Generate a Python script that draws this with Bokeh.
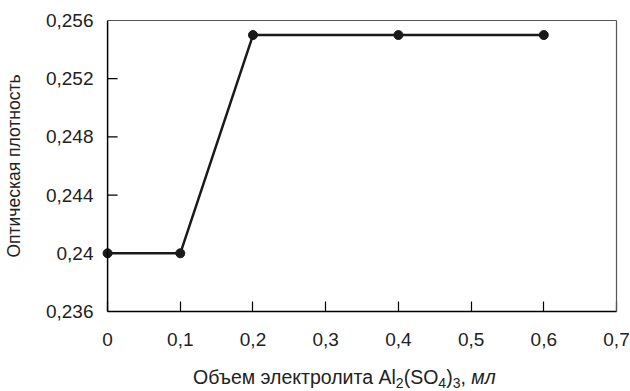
from bokeh.plotting import figure
from bokeh.models import FixedTicker, Range1d, Div, LinearAxis, Span
from bokeh.layouts import column
from bokeh.embed import file_html
from bokeh.resources import INLINE

# Electrolyte volume (ml) and measured optical density
volume_ml = [0.0, 0.1, 0.2, 0.4, 0.6]
optical_density = [0.240, 0.240, 0.255, 0.255, 0.255]

x_ticks = [0.0, 0.1, 0.2, 0.3, 0.4, 0.5, 0.6, 0.7]
x_tick_labels = ["0", "0,1", "0,2", "0,3", "0,4", "0,5", "0,6", "0,7"]
y_ticks = [0.236, 0.240, 0.244, 0.248, 0.252, 0.256]
y_tick_labels = ["0,236", "0,24", "0,244", "0,248", "0,252", "0,256"]

FONT = "Liberation Sans"
TEXT = "#222222"
SIZE = "19px"

X_MIN, X_MAX = 0.0, 0.7
Y_MIN, Y_MAX = 0.236, 0.256
# a little room left of x = 0 so the first marker is drawn whole
X_PAD = 0.0125

p = figure(width=630, height=368, output_backend="svg", toolbar_location=None,
           x_range=Range1d(X_MIN - X_PAD, X_MAX), y_range=Range1d(Y_MIN, Y_MAX),
           min_border_left=98, min_border_right=14,
           min_border_top=20, min_border_bottom=57)

p.background_fill_color = "white"
p.border_fill_color = "white"
p.grid.visible = False
p.outline_line_color = None

# x axis
p.xaxis.ticker = FixedTicker(ticks=x_ticks)
p.xaxis.bounds = (X_MIN, X_MAX)
p.xaxis.major_label_overrides = {t: s for t, s in zip(x_ticks, x_tick_labels)}
p.xaxis.minor_tick_line_color = None
p.xaxis.major_tick_in = 10
p.xaxis.major_tick_out = 0
p.xaxis.major_label_standoff = 21
p.xaxis.axis_line_color = "black"
p.xaxis.axis_line_width = 1.5
p.xaxis.major_tick_line_width = 1.2
p.xaxis.major_label_text_font = FONT
p.xaxis.major_label_text_font_size = SIZE
p.xaxis.major_label_text_color = TEXT

# y axis: labels and title from the axis, its line and ticks drawn at x = 0
yax = p.yaxis[0]
yax.ticker = FixedTicker(ticks=y_ticks)
yax.major_label_overrides = {t: s for t, s in zip(y_ticks, y_tick_labels)}
yax.axis_line_color = None
yax.major_tick_line_color = None
yax.minor_tick_line_color = None
yax.major_tick_in = 0
yax.major_tick_out = 0
yax.major_label_standoff = 5
yax.major_label_text_font = FONT
yax.major_label_text_font_size = SIZE
yax.major_label_text_color = TEXT
yax.axis_label = "Оптическая плотность"
yax.axis_label_text_font = FONT
yax.axis_label_text_font_size = "17.5px"
yax.axis_label_text_font_style = "normal"
yax.axis_label_text_color = TEXT
yax.axis_label_standoff = 19

p.add_layout(Span(location=X_MIN, dimension="height", line_color="black", line_width=1.5))
p.ray(x=[X_MIN] * len(y_ticks), y=y_ticks, length=10, length_units="screen",
      angle=0, line_color="black", line_width=1.2)


def frame_edge(**kw):
    # plain line closing the box on the top and right sides
    return LinearAxis(ticker=FixedTicker(ticks=[]), axis_line_color="#555555",
                      axis_line_width=1.2, major_tick_line_color=None,
                      minor_tick_line_color=None, major_label_text_font_size="0px",
                      **kw)


p.add_layout(frame_edge(bounds=(X_MIN, X_MAX)), "above")
p.add_layout(frame_edge(bounds=(Y_MIN, Y_MAX)), "right")

# data line with markers
p.line(volume_ml, optical_density, line_color="#1a1a1a", line_width=2.5)
p.scatter(volume_ml, optical_density, size=9, fill_color="#1a1a1a", line_color="#1a1a1a")

# x axis title with chemical subscripts and italic unit
sub = '<sub style="font-size:72%;line-height:0;vertical-align:-0.25em">{}</sub>'
x_title = Div(
    text=("Объем электролита Al" + sub.format("2") + "(SO" + sub.format("4") + ")"
          + sub.format("3") + ", <i>мл</i>"),
    width=630, height=23, margin=0,
    styles={"font-family": FONT, "font-size": "19.5px", "color": TEXT,
            "line-height": "1", "padding-left": "193px", "white-space": "nowrap"},
)

layout = column(p, x_title, spacing=0)
open("out.html", "w").write(file_html(layout, INLINE))
